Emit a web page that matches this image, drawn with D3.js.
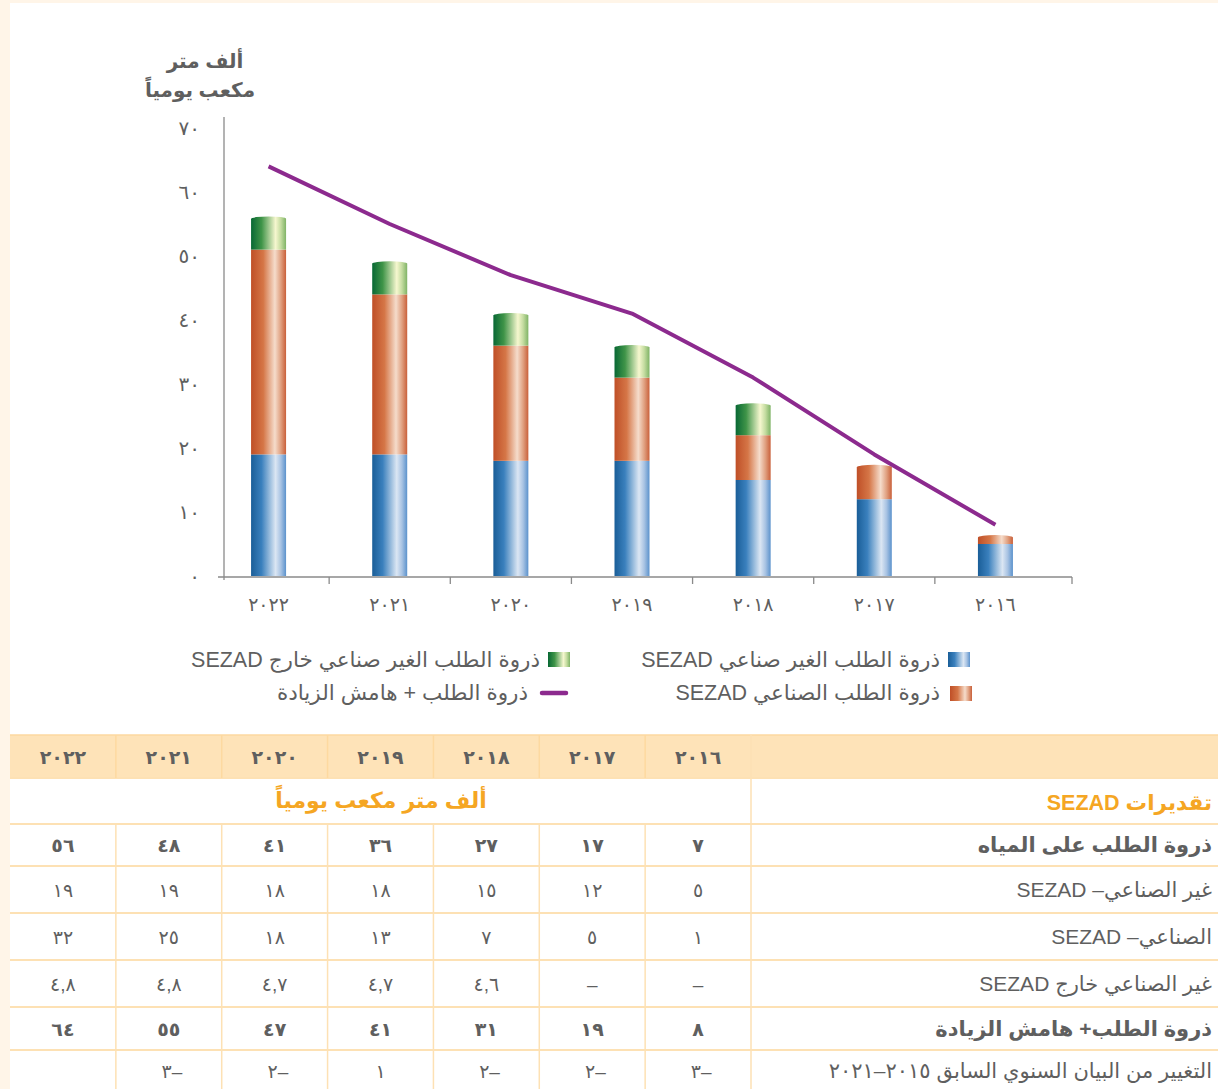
<!DOCTYPE html>
<meta charset="utf-8">
<style>
    body { margin: 0; background: #fff; }
    svg text { font-family: "Liberation Sans", "DejaVu Sans", sans-serif; fill: #5f5f5f; }
</style>
<script src="https://d3js.org/d3.v7.min.js"></script>
<svg id="chart" width="1218" height="1089"></svg>
<script>
    // data (years 2016 .. 2022)
    var years = [2016, 2017, 2018, 2019, 2020, 2021, 2022];
    var nonIndustrial = [5, 12, 15, 18, 18, 19, 19];
    var industrial = [1, 5, 7, 13, 18, 25, 32];
    var outsideSezad = [0, 0, 4.6, 4.7, 4.7, 4.8, 4.8];
    var peakDemand = [7, 17, 27, 36, 41, 48, 56];
    var peakWithMargin = [8, 19, 31, 41, 47, 55, 64];
    var changeVsPrevious = [-3, -2, -2, 1, -2, -3, null];
    var yTicks = [0, 10, 20, 30, 40, 50, 60, 70];

    var rowLabels = [
        "ذروة الطلب على المياه",
        "غير الصناعي– SEZAD",
        "الصناعي– SEZAD",
        "غير الصناعي خارج SEZAD",
        "ذروة الطلب+ هامش الزيادة",
        "التغيير من البيان السنوي السابق ٢٠١٥–٢٠٢١"
    ];
    var legendLabels = [
        "ذروة الطلب الغير  صناعي SEZAD",
        "ذروة الطلب الصناعي SEZAD",
        "ذروة الطلب الغير صناعي خارج  SEZAD",
        "ذروة الطلب + هامش الزيادة"
    ];

    // western digits -> arabic-indic
    function ar(v) {
        return String(v).replace(/[0-9]/g, function(d) { return "٠١٢٣٤٥٦٧٨٩"[+d]; }).replace(".", ",");
    }
    function cellText(v, dashZero) {
        if (v === null) return "";
        if (dashZero && v === 0) return "–";
        return ar(Math.abs(v));
    }

    var svg = d3.select("#chart");

    // cream page edge
    svg.append("rect").attr("x", 0).attr("y", 0).attr("width", 1218).attr("height", 3).attr("fill", "#fff5e8");
    svg.append("rect").attr("x", 0).attr("y", 0).attr("width", 10).attr("height", 1089).attr("fill", "#fff5e8");

    // gradients
    var defs = svg.append("defs");
    function grad(id, stops) {
        var g = defs.append("linearGradient").attr("id", id)
            .attr("x1", "0").attr("x2", "1").attr("y1", "0").attr("y2", "0");
        stops.forEach(function(s) {
            g.append("stop").attr("offset", s[0]).attr("stop-color", s[1]);
        });
    }
    grad("gBlue", [[0, "#1a5e98"], [0.3, "#3a80bd"], [0.7, "#dbe6f3"], [0.85, "#a8c3e3"], [1, "#5b92cc"]]);
    grad("gOrange", [[0, "#bf4f27"], [0.35, "#d57647"], [0.68, "#f5dccb"], [0.85, "#e0a080"], [1, "#c9603a"]]);
    grad("gGreen", [[0, "#086834"], [0.3, "#3f9448"], [0.7, "#f6f7cf"], [0.85, "#c4dca0"], [1, "#7fb366"]]);

    // scales
    var order = years.slice().reverse();  // 2022 on the left
    var x = d3.scaleBand().domain(order).range([208, 1056]).padding(0);
    var step = x.step();
    var barW = 35;
    var y = d3.scaleLinear().domain([0, 70]).range([576, 128]);
    function cx(yr) { return x(yr) + step / 2; }

    // axes
    svg.append("line").attr("x1", 224).attr("x2", 224).attr("y1", 117).attr("y2", 580)
        .attr("stroke", "#8a8a8a").attr("stroke-width", 1.3);
    svg.append("line").attr("x1", 218).attr("x2", 1072).attr("y1", 577).attr("y2", 577)
        .attr("stroke", "#8a8a8a").attr("stroke-width", 1.3);
    var tickXs = order.slice(0, 6).map(function(yr) { return x(yr) + step; }).concat([1072]);
    svg.selectAll(".xtick").data(tickXs).enter().append("line")
        .attr("x1", function(d) { return d; }).attr("x2", function(d) { return d; })
        .attr("y1", 577).attr("y2", 584).attr("stroke", "#8a8a8a").attr("stroke-width", 1.3);

    svg.selectAll(".ylab").data(yTicks).enter().append("text")
        .attr("x", 200).attr("y", function(d) { return y(d) + 7; })
        .attr("text-anchor", "end").attr("font-size", 20)
        .text(function(d) { return ar(d); });

    svg.selectAll(".xlab").data(order).enter().append("text")
        .attr("x", function(d) { return cx(d); }).attr("y", 611)
        .attr("text-anchor", "middle").attr("font-size", 19)
        .text(function(d) { return ar(d); });

    // y title
    svg.append("text").attr("x", 205).attr("y", 68).attr("text-anchor", "middle")
        .attr("font-size", 20).attr("font-weight", "bold").text("ألف متر");
    svg.append("text").attr("x", 200).attr("y", 97).attr("text-anchor", "middle")
        .attr("font-size", 20).attr("font-weight", "bold").text("مكعب يومياً");

    // stacked bars
    var series = [
        { key: "nonIndustrial", vals: nonIndustrial, fill: "url(#gBlue)" },
        { key: "industrial", vals: industrial, fill: "url(#gOrange)" },
        { key: "outside", vals: outsideSezad, fill: "url(#gGreen)" }
    ];
    var bars = svg.append("g");
    years.forEach(function(yr, i) {
        var base = 0;
        var topFill = null, topVal = 0;
        series.forEach(function(s) {
            var v = s.vals[i];
            if (v <= 0) return;
            bars.append("rect")
                .attr("x", cx(yr) - barW / 2).attr("width", barW)
                .attr("y", y(base + v)).attr("height", y(base) - y(base + v))
                .attr("fill", s.fill);
            base += v;
            topFill = s.fill; topVal = base;
        });
        bars.append("ellipse")
            .attr("cx", cx(yr)).attr("cy", y(topVal)).attr("rx", barW / 2).attr("ry", 2.5)
            .attr("fill", topFill);
    });

    // line
    var line = d3.line()
        .x(function(d, i) { return cx(years[i]); })
        .y(function(d) { return y(d); });
    svg.append("path").datum(peakWithMargin)
        .attr("d", line).attr("fill", "none")
        .attr("stroke", "#8c2a8e").attr("stroke-width", 4).attr("stroke-linejoin", "round");

    // legend
    var lg = svg.append("g");
    lg.append("rect").attr("x", 948).attr("y", 652).attr("width", 22).attr("height", 15).attr("fill", "url(#gBlue)");
    lg.append("rect").attr("x", 950).attr("y", 686).attr("width", 22).attr("height", 15).attr("fill", "url(#gOrange)");
    lg.append("rect").attr("x", 548).attr("y", 652).attr("width", 22).attr("height", 15).attr("fill", "url(#gGreen)");
    lg.append("line").attr("x1", 542).attr("x2", 566).attr("y1", 693).attr("y2", 693)
        .attr("stroke", "#8c2a8e").attr("stroke-width", 4.5).attr("stroke-linecap", "round");
    var legPos = [[940, 667], [940, 700], [540, 667], [528, 700]];
    legendLabels.forEach(function(t, i) {
        lg.append("text").attr("x", legPos[i][0]).attr("y", legPos[i][1])
            .attr("direction", "rtl").attr("text-anchor", "start").attr("font-size", 21.5)
            .text(t);
    });

    // table
    var tx = d3.scaleBand().domain(order).range([10, 751]);
    var border = "#fde1b4";
    var tb = svg.append("g");
    tb.append("rect").attr("x", 10).attr("y", 735).attr("width", 1208).attr("height", 43).attr("fill", "#fee3b8");
    tb.append("line").attr("x1", 10).attr("x2", 1218).attr("y1", 735).attr("y2", 735).attr("stroke", "#fdd9a0").attr("stroke-width", 1.5);

    var rowTops = [824, 866, 913, 960, 1007, 1050];
    var rowBottoms = [866, 913, 960, 1007, 1050, 1092];
    var hLines = [778].concat(rowTops);
    hLines.forEach(function(yy) {
        tb.append("line").attr("x1", 10).attr("x2", 1218).attr("y1", yy).attr("y2", yy)
            .attr("stroke", border).attr("stroke-width", 2);
    });
    // vertical lines: years columns in header and data rows, label column everywhere
    order.forEach(function(yr, i) {
        if (i === 0) return;
        var xx = tx(yr);
        tb.append("line").attr("x1", xx).attr("x2", xx).attr("y1", 735).attr("y2", 778)
            .attr("stroke", "#fdd9a0").attr("stroke-width", 1.5);
        tb.append("line").attr("x1", xx).attr("x2", xx).attr("y1", 824).attr("y2", 1089)
            .attr("stroke", border).attr("stroke-width", 1.5);
    });
    tb.append("line").attr("x1", 751).attr("x2", 751).attr("y1", 735).attr("y2", 1089)
        .attr("stroke", border).attr("stroke-width", 1.5);

    // header years
    order.forEach(function(yr) {
        tb.append("text").attr("x", tx(yr) + tx.bandwidth() / 2).attr("y", 764)
            .attr("text-anchor", "middle").attr("font-size", 19).attr("font-weight", "bold")
            .text(ar(yr));
    });
    // sub header
    tb.append("text").attr("x", 381).attr("y", 808).attr("text-anchor", "middle")
        .attr("font-size", 22).attr("font-weight", "bold").style("fill", "#f5a623")
        .text("ألف متر مكعب يومياً");
    tb.append("text").attr("x", 1212).attr("y", 810).attr("direction", "rtl").attr("text-anchor", "start")
        .attr("font-size", 21.5).attr("font-weight", "bold").style("fill", "#f5a623")
        .text("تقديرات SEZAD");

    var rows = [
        { vals: peakDemand, bold: true },
        { vals: nonIndustrial, bold: false },
        { vals: industrial, bold: false },
        { vals: outsideSezad, bold: false, dash: true },
        { vals: peakWithMargin, bold: true },
        { vals: changeVsPrevious, bold: false }
    ];
    rows.forEach(function(r, ri) {
        var mid = (rowTops[ri] + rowBottoms[ri]) / 2 + 7;
        tb.append("text").attr("x", 1212).attr("y", mid)
            .attr("direction", "rtl").attr("text-anchor", "start")
            .attr("font-size", 21).attr("font-weight", r.bold ? "bold" : "normal")
            .text(rowLabels[ri]);
        years.forEach(function(yr, i) {
            var v = r.vals[i];
            var c = tx(yr) + tx.bandwidth() / 2;
            var fw = r.bold ? "bold" : "normal";
            if (v !== null && v < 0) {
                // negative: digit on the left, dash on the right
                tb.append("text").attr("x", c + 3).attr("y", mid)
                    .attr("text-anchor", "end").attr("font-size", 19).attr("font-weight", fw)
                    .text(cellText(v, r.dash));
                tb.append("text").attr("x", c + 3).attr("y", mid)
                    .attr("text-anchor", "start").attr("font-size", 19).attr("font-weight", fw)
                    .text("–");
                return;
            }
            tb.append("text").attr("x", c).attr("y", mid)
                .attr("text-anchor", "middle").attr("font-size", 19)
                .attr("font-weight", fw)
                .text(cellText(v, r.dash));
        });
    });
</script>
